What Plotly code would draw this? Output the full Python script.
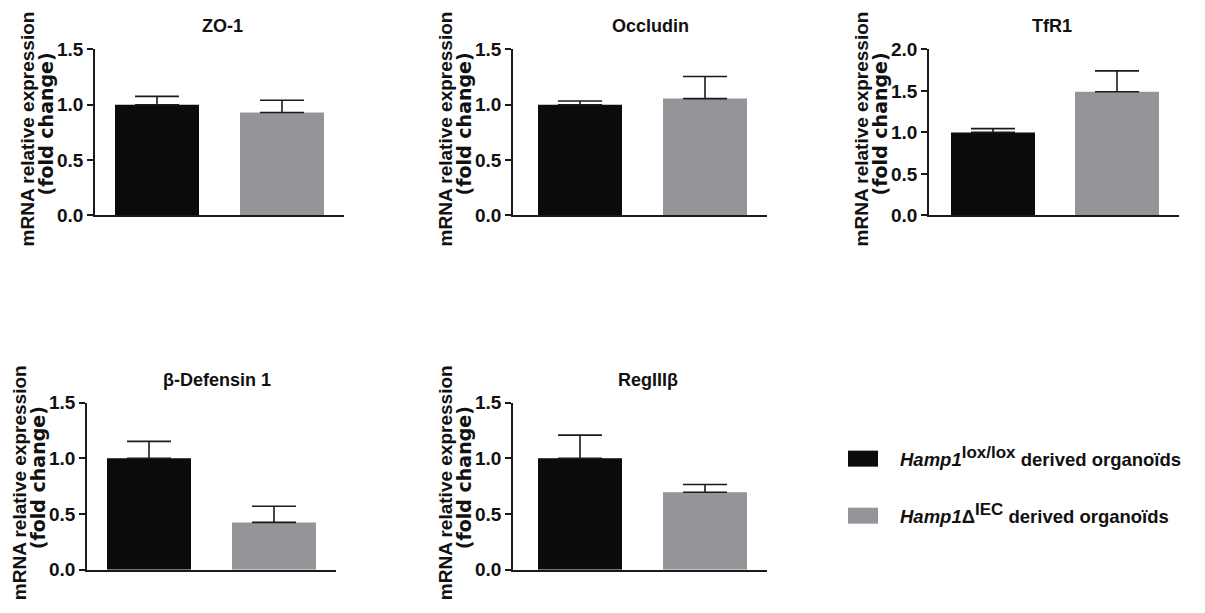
import plotly.graph_objects as go

# ---------------- data ----------------
genes = ["ZO-1", "Occludin", "TfR1", "β-Defensin 1", "RegIIIβ"]
groups = ["Hamp1 lox/lox", "Hamp1 ΔIEC"]
lox_mean = [1.0, 1.0, 1.0, 1.0, 1.0]
lox_sem = [0.075, 0.033, 0.045, 0.152, 0.208]
iec_mean = [0.93, 1.055, 1.49, 0.425, 0.695]
iec_sem = [0.11, 0.20, 0.25, 0.145, 0.07]
y_max = [1.5, 1.5, 2.0, 1.5, 1.5]
y_ticks = [[0, 0.5, 1.0, 1.5], [0, 0.5, 1.0, 1.5], [0, 0.5, 1.0, 1.5, 2.0],
           [0, 0.5, 1.0, 1.5], [0, 0.5, 1.0, 1.5]]
SUP = '<sup><span style="font-size:17px">{}</span></sup>'
legend_labels = ["<i>Hamp1</i>" + SUP.format("lox/lox") + " derived organoïds",
                 "<i>Hamp1</i>Δ" + SUP.format("IEC") + " derived organoïds"]
y_title_1 = "mRNA relative expression"
y_title_2 = "(fold change)"

# ---------------- styling / layout ----------------
W, H = 1205, 613
BLACK = "#0b0b0b"
GREY = "#959499"
AX = "#1a1a1a"
FONT = "Liberation Sans, Arial, Helvetica, sans-serif"


# target-pixel -> layout-pixel (compensates page offset seen in the capture)
def PX(x):
    return (x - 8) / W


def PY(y):
    return 1 - ((y - 18.7) / 0.965) / H


# panel geometry (target pixels): axis_x, end_x, top_y, bottom_y, bar0_c, bar1_c, title_x
panels = [
    (95, 344, 50, 216, 157, 282, 222),
    (513, 767, 50, 216, 580, 705, 650),
    (929, 1179, 50, 216, 993, 1117, 1052),
    (87, 336, 403, 570, 149, 274, 217),
    (513, 767, 403, 570, 580, 705, 648),
]

fig = go.Figure()
annotations = []
shapes = []

for i, (ax0, ax1, top, bot, c0, c1, tx) in enumerate(panels):
    n = "" if i == 0 else str(i + 1)
    xa, ya = "x" + n, "y" + n
    sp = c1 - c0
    xr = [-(c0 - ax0) / sp, 1 + (ax1 - c1) / sp]
    bw = 84 / sp
    fig.add_trace(go.Bar(
        x=[0], y=[lox_mean[i]], name=groups[0], width=bw,
        marker=dict(color=BLACK, line=dict(width=0)),
        error_y=dict(type="data", array=[lox_sem[i]], arrayminus=[0], symmetric=False,
                     color=AX, thickness=1.6, width=22),
        xaxis=xa, yaxis=ya, showlegend=False))
    fig.add_trace(go.Bar(
        x=[1], y=[iec_mean[i]], name=groups[1], width=bw,
        marker=dict(color=GREY, line=dict(width=0)),
        error_y=dict(type="data", array=[iec_sem[i]], arrayminus=[0], symmetric=False,
                     color=AX, thickness=1.6, width=22),
        xaxis=xa, yaxis=ya, showlegend=False))

    fig.layout["xaxis" + n] = dict(
        domain=[PX(ax0), PX(ax1)], range=xr, anchor=ya, showline=True, linecolor=AX,
        linewidth=1.8, ticks="", showticklabels=False, showgrid=False, zeroline=False,
        fixedrange=True)
    fig.layout["yaxis" + n] = dict(
        domain=[PY(bot), PY(top)], range=[0, y_max[i]], anchor=xa, showline=True,
        linecolor=AX, linewidth=1.8, ticks="outside", ticklen=6, tickwidth=1.8,
        tickcolor=AX, tickvals=y_ticks[i], tickformat=".1f", showgrid=False,
        zeroline=False, fixedrange=True,
        tickfont=dict(family=FONT, size=19, color="#111", weight="bold"))

    # panel title
    annotations.append(dict(
        text=genes[i], xref="paper", yref="paper", x=PX(tx), y=PY(top - 23),
        xanchor="center", yanchor="middle", showarrow=False,
        font=dict(family=FONT, size=18, color="#111", weight="bold")))
    # y-axis title (two lines)
    cy = (top + bot) / 2
    annotations.append(dict(
        text=y_title_1, textangle=-90, xref="paper", yref="paper",
        x=PX(ax0 - 68), y=PY(cy - 3), xanchor="center", yanchor="middle",
        showarrow=False, font=dict(family=FONT, size=19, color="#111", weight="bold")))
    annotations.append(dict(
        text=y_title_2, textangle=-90, xref="paper", yref="paper",
        x=PX(ax0 - 49), y=PY(cy - 8), xanchor="center", yanchor="middle",
        showarrow=False,
        font=dict(family="DejaVu Sans, sans-serif", size=19, color="#111", weight="bold")))

# legend (drawn manually to match the swatch shape)
leg_rows = [(451, 467, BLACK), (508, 524, GREY)]
for (y0, y1, col), lab in zip(leg_rows, legend_labels):
    shapes.append(dict(type="rect", xref="paper", yref="paper",
                       x0=PX(848), x1=PX(878), y0=PY(y1), y1=PY(y0),
                       fillcolor=col, line=dict(width=0)))
    annotations.append(dict(
        text=lab, xref="paper", yref="paper", x=PX(898), y=PY((y0 + y1) / 2 - 2),
        xanchor="left", yanchor="middle", showarrow=False,
        font=dict(family=FONT, size=18.5, color="#111", weight="bold")))

fig.update_layout(
    width=W, height=H, margin=dict(l=0, r=0, t=0, b=0),
    paper_bgcolor="white", plot_bgcolor="white",
    barmode="overlay", annotations=annotations, shapes=shapes,
    font=dict(family=FONT, color="#111"),
)

fig.write_html("out.html")
